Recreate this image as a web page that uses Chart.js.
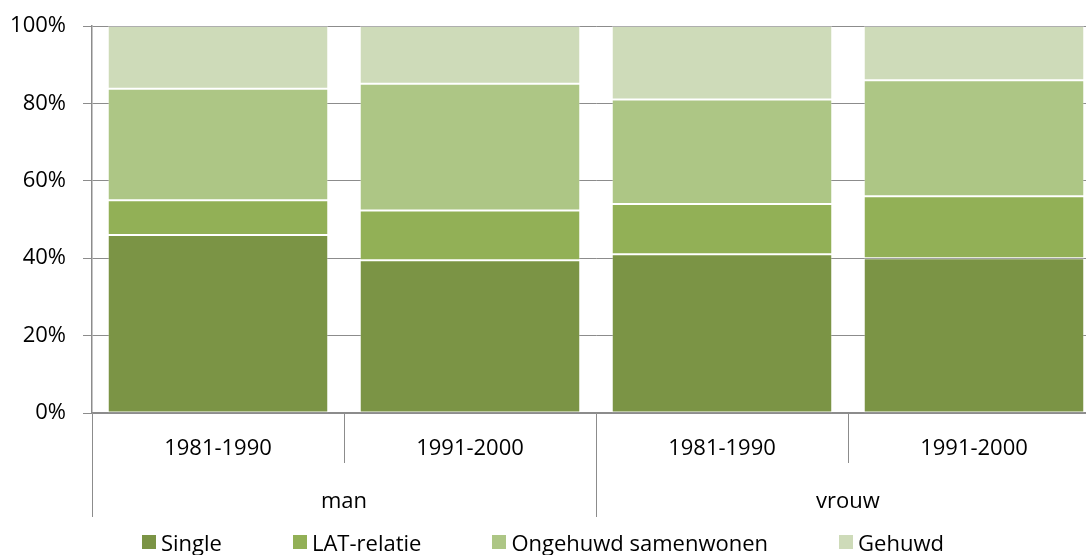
<!DOCTYPE html>
<html>
<head>
<meta charset="utf-8">
<script src="https://cdn.jsdelivr.net/npm/chart.js@4.4.1/dist/chart.umd.min.js"></script>
<style>
  html, body { margin: 0; padding: 0; background: #fff; }
  #wrap { position: relative; width: 1086px; height: 555px; overflow: hidden; }
  #chart { display: block; }
  #legend {
    position: absolute; left: 142px; top: 527px;
    display: flex; align-items: center;
    font-family: "Open Sans", sans-serif; font-size: 22px; color: #000;
  }
  #legend span.item { display: flex; align-items: center; margin-right: 71px; white-space: nowrap; }
  #legend span.box { width: 14px; height: 14px; margin-right: 5px; display: inline-block; }
</style>
</head>
<body>
<div id="wrap">
  <canvas id="chart" width="1100" height="555"></canvas>
  <div id="legend"></div>
</div>
<script>
"use strict";

/* ---- Data (percent shares) ---- */
const periods  = ["1981-1990", "1991-2000", "1981-1990", "1991-2000"];
const groups   = ["man", "vrouw"];
const single   = [46, 39.5, 41, 40];
const lat      = [9, 12.8, 13, 16];
const ongehuwd = [28.8, 32.8, 27, 30];
const gehuwd   = [16.2, 14.9, 19, 14];

const seriesNames  = ["Single", "LAT-relatie", "Ongehuwd samenwonen", "Gehuwd"];
const seriesColors = ["#7B9445", "#92B056", "#ADC685", "#CEDBB9"];
const yTicks       = [0, 20, 40, 60, 80, 100];

const FONT = { family: "'Open Sans', sans-serif", size: 22 };
const GRID = "#8C8C8C";

const datasets = [single, lat, ongehuwd, gehuwd].map((data, i) => ({
  label: seriesNames[i],
  data,
  backgroundColor: seriesColors[i],
  borderColor: "rgba(255,255,255,0.3)",
  borderWidth: 1,
  borderSkipped: false,
  barPercentage: 0.875,
  categoryPercentage: 1,
}));

// canvas is 14px wider than the window: the plot runs past the right edge, as in the source
const chart = new Chart(document.getElementById("chart"), {
  type: "bar",
  data: { labels: periods, datasets },
  options: {
    responsive: false,
    animation: false,
    layout: { padding: { top: 26, right: 0, bottom: 32, left: 0 } },
    plugins: { legend: { display: false }, tooltip: { enabled: false } },
    scales: {
      x: {
        stacked: true,
        offset: true,
        grid: { offset: true, drawOnChartArea: false, drawTicks: true, tickLength: 50, color: GRID, lineWidth: 1 },
        border: { display: true, color: GRID, width: 1.5 },
        ticks: { font: FONT, color: "#000", padding: -27, maxRotation: 0, autoSkip: false },
        afterFit: s => { s.height = 50; },
      },
      x2: {
        type: "category",
        position: "bottom",
        labels: groups,
        offset: true,
        grid: { offset: true, drawOnChartArea: false, drawTicks: true, tickLength: 54, color: GRID, lineWidth: 1 },
        border: { display: false },
        ticks: { font: FONT, color: "#000", padding: -28, maxRotation: 0 },
        afterFit: s => { s.height = 60; },
      },
      y: {
        stacked: true,
        min: 0,
        max: 100,
        afterBuildTicks: s => { s.ticks = yTicks.map(v => ({ value: v })); },
        grid: { color: GRID, lineWidth: 1, tickLength: 9 },
        border: { display: true, color: GRID, width: 1.5 },
        ticks: { font: FONT, color: "#000", padding: 17, callback: v => v + "%" },
        afterFit: s => { s.width = 92; s.paddingTop = 0; s.paddingBottom = 0; },
      },
    },
  },
});

/* ---- Legend built from the chart's own legend items ---- */
const legendEl = document.getElementById("legend");
chart.options.plugins.legend.labels.generateLabels(chart).forEach(item => {
  const el = document.createElement("span");
  el.className = "item";
  const box = document.createElement("span");
  box.className = "box";
  box.style.background = item.fillStyle;
  el.appendChild(box);
  el.appendChild(document.createTextNode(item.text));
  legendEl.appendChild(el);
});
</script>
</body>
</html>
